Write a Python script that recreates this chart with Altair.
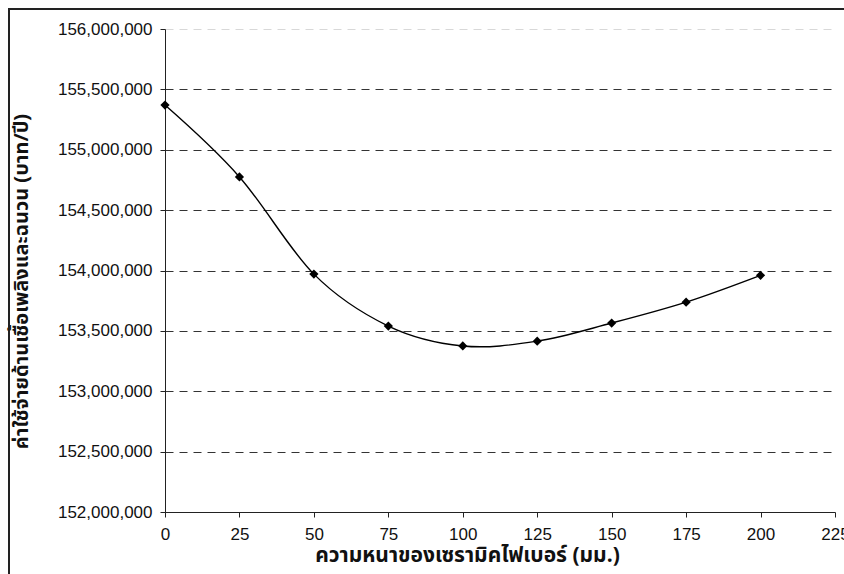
import altair as alt
import pandas as pd

# Ceramic-fibre insulation thickness (mm) vs. annual fuel + insulation cost (baht/year)
thickness_mm = [0, 25, 50, 75, 100, 125, 150, 175, 200]
annual_cost = [155370000, 154775000, 153970000, 153540000, 153375000,
               153415000, 153565000, 153738000, 153960000]

x_ticks = [0, 25, 50, 75, 100, 125, 150, 175, 200, 225]
y_ticks = [152000000, 152500000, 153000000, 153500000, 154000000,
           154500000, 155000000, 155500000, 156000000]

x_title = "ความหนาของเซรามิคไฟเบอร์ (มม.)"
y_title = "ค่าใช้จ่ายด้านเชื้อเพลิงและฉนวน (บาท/ปี)"

df = pd.DataFrame({"thickness": thickness_mm, "cost": annual_cost})

LABEL_FONT = "Liberation Sans"
TITLE_FONT = "Noto Sans Thai, Tahoma, DejaVu Sans, sans-serif"

x_enc = alt.X(
    "thickness:Q",
    scale=alt.Scale(domain=[0, 225], nice=False, zero=False),
    axis=alt.Axis(
        values=x_ticks, grid=False, title=x_title,
        domainColor="#222", tickColor="#222", tickSize=5,
        labelFont=LABEL_FONT, labelFontSize=17, labelColor="#111",
        labelPadding=9, labelFlush=False, labelOverlap=False,
        titleFont=TITLE_FONT, titleFontSize=21, titleFontWeight="bold",
        titleColor="#111", titleBaseline="alphabetic", titleAlign="center",
        titleX=302, titleY=49,
    ),
)

y_enc = alt.Y(
    "cost:Q",
    scale=alt.Scale(domain=[152000000, 156000000], nice=False, zero=False),
    axis=alt.Axis(
        values=y_ticks, format=",d", title=y_title,
        grid=True, gridDash=[8, 6], gridWidth=1,
        gridColor=alt.condition("datum.value == 156000000",
                                alt.value("#d8d8d8"), alt.value("#333333")),
        domainColor="#222", tickColor="#222", tickSize=5,
        labelFont=LABEL_FONT, labelFontSize=17, labelColor="#111",
        labelPadding=8, labelFlush=False, labelOverlap=False,
        titleFont=TITLE_FONT, titleFontSize=20, titleFontWeight="bold",
        titleColor="#111", titleAngle=270, titleAlign="center",
        titleBaseline="middle", titleX=-144, titleY=252,
    ),
)

base = alt.Chart(df)

curve = base.mark_line(
    interpolate="cardinal", color="#000", strokeWidth=1.4
).encode(x=x_enc, y=y_enc)

points = base.mark_point(
    shape="diamond", filled=True, color="#000", size=85, opacity=1
).encode(x="thickness:Q", y="cost:Q")

# outer frame around the whole chart
frame = alt.Chart(pd.DataFrame({"k": [0]})).mark_rect(
    fill=None, fillOpacity=0, stroke="#222", strokeWidth=2
).encode(
    x=alt.value(-156), x2=alt.value(720),
    y=alt.value(-20), y2=alt.value(620),
)

chart = alt.layer(curve, points, frame).properties(
    width=670, height=483,
    autosize=alt.AutoSizeParams(type="none"),
    padding={"left": 165, "top": 29, "right": 9, "bottom": 62},
    background="white",
).configure_view(stroke=None)

chart.save("out.html", embed_options={"renderer": "svg", "actions": False})
